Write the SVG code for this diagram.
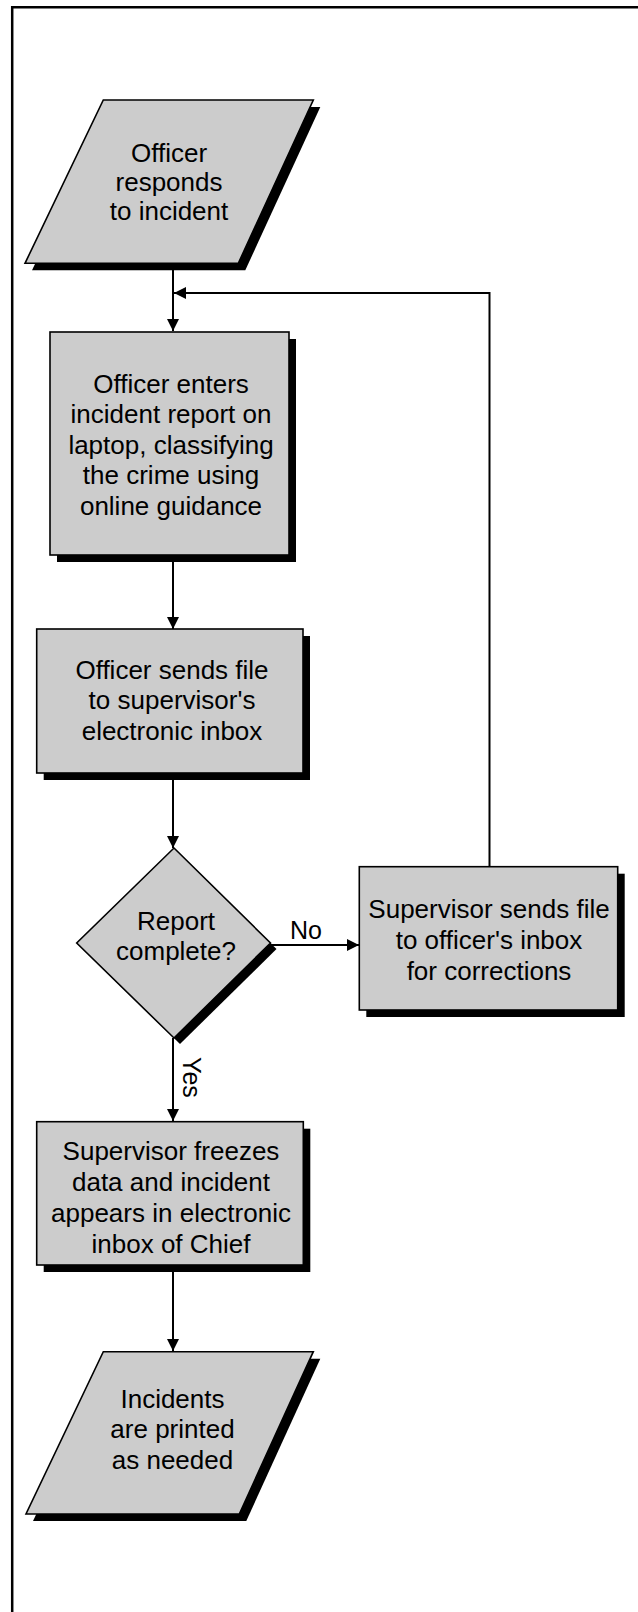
<svg xmlns="http://www.w3.org/2000/svg" width="638" height="1612" viewBox="0 0 638 1612">
  <style>
    .shape { fill: #cccccc; stroke: #000; stroke-width: 1.6; stroke-linejoin: miter; }
    .shadow { fill: #000; stroke: none; }
    .label { font-family: "Liberation Sans", Arial, Helvetica, sans-serif; font-size: 26px; fill: #000; text-anchor: middle; }
    .edge-label { font-family: "Liberation Sans", Arial, Helvetica, sans-serif; font-size: 25px; fill: #000; }
    .wire { fill: none; stroke: #000; stroke-width: 2; }
    .frame { fill: none; stroke: #000; stroke-width: 2.5; }
  </style>
  <defs>
    <marker id="arrow" markerUnits="userSpaceOnUse" markerWidth="12" markerHeight="12" refX="12" refY="6" orient="auto">
      <path d="M0,0 L12,6 L0,12 Z" fill="#000"/>
    </marker>
  </defs>

  <rect width="638" height="1612" fill="#fff"/>

  <!-- page frame: top and left rules -->
  <g id="frame">
    <path class="frame" d="M12.2,1612 V7.2 H638"/>
  </g>

  <!-- connectors -->
  <g id="connectors">
    <path class="wire" d="M173,264 V331" marker-end="url(#arrow)"/>
    <path class="wire" d="M489.5,867 V293 H174" marker-end="url(#arrow)"/>
    <path class="wire" d="M173,556 V629" marker-end="url(#arrow)"/>
    <path class="wire" d="M173,774 V848" marker-end="url(#arrow)"/>
    <path class="wire" d="M270,945 H359" marker-end="url(#arrow)"/>
    <path class="wire" d="M173,1038 V1121" marker-end="url(#arrow)"/>
    <path class="wire" d="M173,1266 V1351" marker-end="url(#arrow)"/>
    <text class="edge-label" x="290" y="939">No</text>
    <text class="edge-label" transform="translate(183,1057) rotate(90)">Yes</text>
  </g>

  <!-- start: officer responds -->
  <g id="node-respond">
    <polygon class="shadow" points="110.3,107 320.3,107 245.3,270.3 32,270.3"/>
    <polygon class="shape" points="103.3,100 313.3,100 238.3,263.3 25,263.3"/>
    <text class="label" x="169" y="162">Officer</text>
    <text class="label" x="169" y="191">responds</text>
    <text class="label" x="169" y="220">to incident</text>
  </g>

  <!-- officer enters report -->
  <g id="node-enter">
    <rect class="shadow" x="57" y="339" width="239" height="223"/>
    <rect class="shape" x="50" y="332" width="239" height="223"/>
    <text class="label" x="171" y="392.5">Officer enters</text>
    <text class="label" x="171" y="423">incident report on</text>
    <text class="label" x="171" y="453.5">laptop, classifying</text>
    <text class="label" x="171" y="484">the crime using</text>
    <text class="label" x="171" y="514.5">online guidance</text>
  </g>

  <!-- officer sends file -->
  <g id="node-send">
    <rect class="shadow" x="43.7" y="636" width="266.3" height="144"/>
    <rect class="shape" x="36.7" y="629" width="266.3" height="144"/>
    <text class="label" x="172" y="678.5">Officer sends file</text>
    <text class="label" x="172" y="709">to supervisor's</text>
    <text class="label" x="172" y="739.5">electronic inbox</text>
  </g>

  <!-- decision -->
  <g id="node-decision">
    <polygon class="shadow" points="180,854 276.5,949 180,1044 82.7,949"/>
    <polygon class="shape" points="174,848 270.5,943 174,1038 76.7,943"/>
    <text class="label" x="176" y="930">Report</text>
    <text class="label" x="176" y="960">complete?</text>
  </g>

  <!-- supervisor returns file -->
  <g id="node-return">
    <rect class="shadow" x="366.3" y="873.7" width="258.4" height="143.3"/>
    <rect class="shape" x="359.3" y="866.7" width="258.4" height="143.3"/>
    <text class="label" x="489" y="918">Supervisor sends file</text>
    <text class="label" x="489" y="949">to officer's inbox</text>
    <text class="label" x="489" y="980">for corrections</text>
  </g>

  <!-- supervisor freezes data -->
  <g id="node-freeze">
    <rect class="shadow" x="43.7" y="1128.7" width="266.6" height="143.3"/>
    <rect class="shape" x="36.7" y="1121.7" width="266.6" height="143.3"/>
    <text class="label" x="171" y="1160">Supervisor freezes</text>
    <text class="label" x="171" y="1191">data and incident</text>
    <text class="label" x="171" y="1222">appears in electronic</text>
    <text class="label" x="171" y="1253">inbox of Chief</text>
  </g>

  <!-- end: incidents printed -->
  <g id="node-print">
    <polygon class="shadow" points="110.3,1358.7 320.3,1358.7 246.3,1521 33,1521"/>
    <polygon class="shape" points="103.3,1351.7 313.3,1351.7 239.3,1514 26,1514"/>
    <text class="label" x="172.5" y="1408">Incidents</text>
    <text class="label" x="172.5" y="1438">are printed</text>
    <text class="label" x="172.5" y="1469">as needed</text>
  </g>
</svg>
